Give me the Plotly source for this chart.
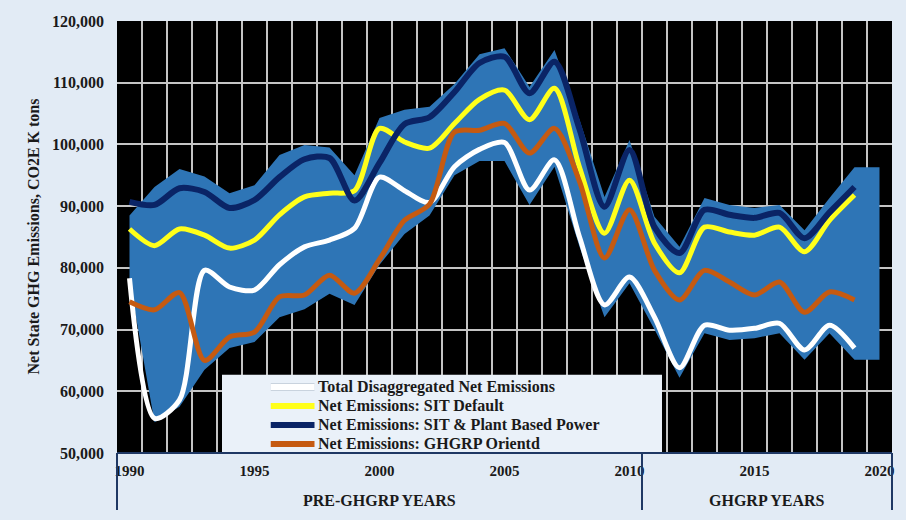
import plotly.graph_objects as go

# --- datos ---
years = list(range(1990, 2020))
band_years = list(range(1990, 2021))

total_disagg = [78300, 55600, 58600, 79600, 76900, 76400, 80500, 83400, 84500, 86400,
                94700, 92500, 90600, 96400, 99200, 100300, 92600, 97500, 85000, 74000,
                78500, 72000, 63800, 70700, 69900, 70200, 71000, 66700, 70700, 67000]
sit_default = [86300, 83600, 86300, 85300, 83200, 84500, 88600, 91500, 92100, 92500,
               102600, 100400, 99400, 103400, 107300, 108800, 104000, 109100, 96300, 85600,
               94200, 84000, 79200, 86600, 85800, 85300, 86600, 82600, 87700, 91800]
sit_plant = [90700, 90200, 92900, 92300, 89700, 91000, 94700, 97600, 97800, 90900,
             97000, 103300, 104400, 108500, 113200, 114200, 108300, 113400, 102500, 89900,
             99100, 86600, 82400, 89400, 88600, 88100, 88900, 84800, 89000, 93100]
ghgrp_orientd = [74500, 73200, 76000, 65000, 68800, 69600, 75300, 75600, 78800, 75900,
                 81400, 87700, 90300, 102000, 102300, 103400, 98600, 102600, 94000, 81600,
                 89400, 79600, 74800, 79600, 77700, 75600, 77700, 72800, 76100, 74800]

band_upper = [88500, 93100, 96000, 94800, 92100, 93400, 98300, 99900, 99500, 95000,
              104300, 105600, 106100, 109800, 114600, 115600, 109300, 115300, 104000, 91500,
              100700, 88300, 83400, 91300, 90200, 89700, 90200, 86100, 91300, 96300, 96300]
band_lower = [78000, 55000, 57500, 63500, 67000, 68000, 72000, 73300, 75800, 74000,
              80500, 85500, 88500, 95000, 97300, 97300, 90200, 96400, 83400, 72000,
              77500, 70000, 62200, 69400, 68300, 68600, 69400, 65100, 69400, 65100, 65100]

tick_years = [1990, 1995, 2000, 2005, 2010, 2015, 2020]
y_ticks = list(range(50000, 120001, 10000))

X_RANGE = [1989.5, 2020.5]
NAVY = "#1f3864"
BAND = "#2e75b6"
GRID = "#c4c4c4"
SERIF = "Liberation Serif"


def xp(yr):
    # posicion en coordenadas "paper" a partir del eje x
    return (yr - X_RANGE[0]) / (X_RANGE[1] - X_RANGE[0])


def bold(size):
    return dict(family=SERIF, size=size, color="#1a1a1a", weight="bold")


fig = go.Figure()

# banda de rango
fig.add_trace(go.Scatter(x=band_years, y=band_lower, mode="lines", line=dict(width=0),
                         showlegend=False, hoverinfo="skip"))
fig.add_trace(go.Scatter(x=band_years, y=band_upper, mode="lines", line=dict(width=0),
                         fill="tonexty", fillcolor=BAND, showlegend=False, hoverinfo="skip"))

series = [
    ("Total Disaggregated Net Emissions", total_disagg, "#ffffff", 5),
    ("Net Emissions: SIT Default", sit_default, "#ffff1a", 5),
    ("Net Emissions: SIT & Plant Based Power", sit_plant, "#0a2466", 6),
    ("Net Emissions: GHGRP Orientd", ghgrp_orientd, "#c55a11", 5),
]
for name, vals, color, w in series:
    fig.add_trace(go.Scatter(x=years, y=vals, name=name, mode="lines", showlegend=False,
                             line=dict(color=color, width=w, shape="spline", smoothing=0.8)))

grid_x = [y - 0.5 for y in band_years] + [band_years[-1] + 0.5]

fig.update_layout(
    width=906, height=520,
    margin=dict(l=117, r=14, t=21, b=67),
    paper_bgcolor="#e2ebf5",
    plot_bgcolor="#000000",
    font=bold(15),
    xaxis=dict(range=X_RANGE, tickmode="array", tickvals=tick_years, showgrid=False,
               zeroline=False, ticks="", tickfont=bold(15), ticklabelstandoff=7,
               minor=dict(tickmode="array", tickvals=grid_x, showgrid=True,
                          gridcolor=GRID, gridwidth=2)),
    yaxis=dict(range=[50000, 120000], tickmode="array", tickvals=y_ticks, tickformat=",",
               showgrid=True, gridcolor=GRID, gridwidth=2, zeroline=False, ticks="",
               tickfont=bold(16), ticklabelstandoff=12),
    showlegend=False,
)

# leyenda dibujada a mano dentro de una caja
fig.add_shape(type="rect", xref="paper", yref="paper", x0=xp(1993.7), x1=xp(2011.3),
              y0=0, y1=0.181, fillcolor="#eaf1f9", line=dict(width=0), layer="above")
legend_top = 0.153
row_step = 0.044
for i, (name, vals, color, w) in enumerate(series):
    yy = legend_top - i * row_step
    if color == "#ffffff":
        fig.add_shape(type="line", xref="paper", yref="paper", x0=xp(1995.65), x1=xp(1997.4),
                      y0=yy, y1=yy, line=dict(color="#c9d3de", width=8), layer="above")
    fig.add_shape(type="line", xref="paper", yref="paper", x0=xp(1995.65), x1=xp(1997.4),
                  y0=yy, y1=yy, line=dict(color=color, width=6), layer="above")
    fig.add_annotation(x=xp(1997.45), y=yy, xref="paper", yref="paper", text=name,
                       xanchor="left", yanchor="middle", showarrow=False, font=bold(16))

# eje inferior y divisiones de periodos
fig.add_shape(type="line", xref="paper", yref="paper", x0=0, x1=1, y0=0, y1=0,
              line=dict(color=NAVY, width=2))
for yr in [1989.5, 2010.5, 2020.5]:
    fig.add_shape(type="line", xref="paper", yref="paper", x0=xp(yr), x1=xp(yr),
                  y0=0, y1=-0.132, line=dict(color=NAVY, width=2))

fig.add_annotation(x=2000, y=-0.109, xref="x", yref="paper", text="PRE-GHGRP YEARS",
                   yanchor="middle", showarrow=False, font=bold(16))
fig.add_annotation(x=2015.5, y=-0.109, xref="x", yref="paper", text="GHGRP YEARS",
                   yanchor="middle", showarrow=False, font=bold(16))
fig.add_annotation(x=-0.109, y=0.5, xref="paper", yref="paper", textangle=-90,
                   xanchor="center", yanchor="middle",
                   text="Net State GHG Emissions, CO2E K tons", showarrow=False,
                   font=bold(16))

fig.write_html("out.html", config={"displayModeBar": False},
               post_script="document.body.style.margin='0';")
